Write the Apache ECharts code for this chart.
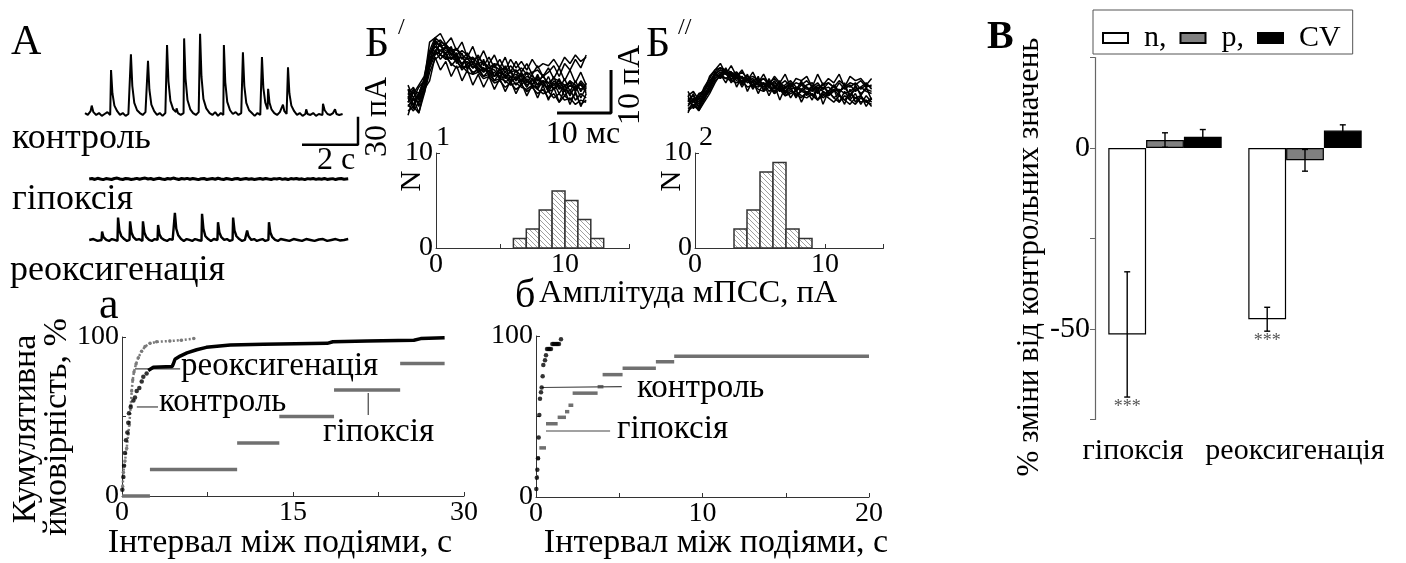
<!DOCTYPE html>
<html><head><meta charset="utf-8">
<script src="https://cdn.jsdelivr.net/npm/echarts/dist/echarts.min.js"></script>
<style>html,body{margin:0;padding:0;background:#fff}#c{width:1406px;height:563px}</style>
</head><body><div id="c"></div><script>
const FONT = '"Liberation Serif","Times New Roman",serif';

// ---------- Panel A: spontaneous activity traces (t in s, current in pA) ----------
const ctrlTrace = [[0,1],[0.1,-1],[0.2,3],[0.24,9],[0.3,2],[0.4,-1],[0.5,1],[0.6,-2],[0.7,0],[0.8,2],[0.9,-1],[0.93,47],[0.98,22],[1.05,9],[1.15,3],[1.25,-1],[1.35,1],[1.45,-2],[1.55,0],[1.62,-1],[1.64,64],[1.69,30],[1.76,12],[1.86,4],[1.96,1],[2.06,-1],[2.16,2],[2.23,0],[2.25,57],[2.3,26],[2.37,10],[2.47,3],[2.57,-1],[2.67,1],[2.77,-2],[2.87,1],[2.91,0],[2.93,74],[2.98,35],[3.05,14],[3.15,5],[3.25,2],[3.27,6],[3.32,1],[3.42,-1],[3.52,1],[3.54,81],[3.59,38],[3.66,15],[3.76,5],[3.86,1],[3.96,-1],[4.06,2],[4.09,0],[4.11,86],[4.16,40],[4.23,16],[4.33,6],[4.4,5],[4.45,1],[4.55,-1],[4.65,2],[4.75,-2],[4.85,1],[4.94,-1],[4.96,74],[5.01,34],[5.08,13],[5.18,4],[5.28,0],[5.38,2],[5.48,-1],[5.58,1],[5.62,-1],[5.64,66],[5.69,30],[5.76,12],[5.86,4],[5.96,1],[6.06,-2],[6.16,1],[6.26,-1],[6.3,0],[6.32,61],[6.37,28],[6.44,12],[6.52,5],[6.54,27],[6.59,12],[6.66,5],[6.76,1],[6.86,-1],[6.96,2],[7.03,0],[7.07,10],[7.12,3],[7.2,0],[7.23,-1],[7.25,50],[7.3,22],[7.37,9],[7.47,3],[7.57,-1],[7.67,1],[7.77,-2],[7.87,0],[7.9,5],[7.95,0],[8.05,-1],[8.15,1],[8.25,-2],[8.35,0],[8.48,-1],[8.5,11],[8.56,4],[8.66,0],[8.76,-1],[8.86,1],[8.93,5],[8.98,0],[9.08,-1],[9.2,0]];
const hypTrace = [[0.15,0],[0.25,0.5],[0.35,-0.5],[0.45,0.8],[0.55,0],[0.65,-0.7],[0.75,0.5],[0.85,0],[0.95,-0.5],[1.05,0.5],[1.15,1],[1.25,0],[1.35,-0.5],[1.45,0.5],[1.55,0.2],[1.65,-0.5],[1.75,0],[1.85,0.7],[1.95,-0.3],[2.05,0.5],[2.15,1],[2.25,0],[2.35,0.5],[2.45,-0.5],[2.55,0.2],[2.65,0.8],[2.75,0],[2.85,-0.5],[2.95,0.5],[3.05,0],[3.15,1],[3.25,0.2],[3.35,-0.5],[3.45,0.5],[3.55,0],[3.65,0.7],[3.75,-0.3],[3.85,0.5],[3.95,0],[4.05,-0.7],[4.15,0.3],[4.25,0.5],[4.35,-0.5],[4.45,0],[4.55,0.5],[4.65,-0.3],[4.75,0.8],[4.85,0],[4.95,-0.5],[5.05,0.5],[5.15,0],[5.25,-0.7],[5.35,0.3],[5.45,0.5],[5.55,-0.5],[5.65,0],[5.75,0.5],[5.85,-0.3],[5.95,0.3],[6.05,-0.5],[6.15,0],[6.25,0.5],[6.35,-0.3],[6.45,0.6],[6.55,0],[6.65,-0.5],[6.75,0.4],[6.85,0],[6.95,0.7],[7.05,-0.4],[7.15,0.2],[7.25,-0.6],[7.35,0.5],[7.45,0],[7.55,0.6],[7.65,-0.3],[7.75,0.2],[7.85,-0.7],[7.95,0.4],[8.05,0],[8.15,0.5],[8.25,-0.4],[8.35,0.3],[8.45,-0.2],[8.55,0.6],[8.65,-0.5],[8.75,0],[8.85,0.4],[8.95,-0.6],[9.05,0.2],[9.15,0.5],[9.25,-0.3],[9.4,0.2]];
const reoxTrace = [[0.15,0],[0.3,1],[0.45,-1],[0.59,0],[0.61,9],[0.66,3],[0.76,0],[0.86,-1],[0.96,1],[1.06,0],[1.16,-1],[1.18,24],[1.23,10],[1.3,4],[1.4,1],[1.5,-1],[1.59,0],[1.61,20],[1.66,8],[1.73,3],[1.83,0],[1.93,1],[2.05,-1],[2.07,20],[2.12,8],[2.19,3],[2.29,0],[2.39,-1],[2.49,1],[2.59,0],[2.61,16],[2.66,6],[2.73,2],[2.83,0],[2.93,-1],[3.03,1],[3.13,0],[3.19,-1],[3.21,29],[3.26,12],[3.33,5],[3.43,1],[3.53,-1],[3.63,1],[3.73,0],[3.83,-1],[3.93,1],[4.03,0],[4.16,-1],[4.18,28],[4.23,12],[4.3,4],[4.4,1],[4.5,-1],[4.6,1],[4.73,0],[4.75,19],[4.8,8],[4.87,3],[4.97,0],[5.07,1],[5.17,-1],[5.27,0],[5.29,24],[5.34,10],[5.41,4],[5.51,1],[5.61,-1],[5.71,0],[5.77,1],[5.79,10],[5.84,4],[5.94,0],[6.04,1],[6.14,-1],[6.24,0],[6.34,1],[6.44,-1],[6.55,0],[6.57,19],[6.62,8],[6.69,3],[6.79,0],[6.89,-1],[6.99,1],[7.15,0],[7.3,-1],[7.45,1],[7.6,0],[7.75,-1],[7.9,1],[8.05,0],[8.2,-1],[8.35,0.5],[8.5,1],[8.65,-1],[8.8,0],[8.95,1],[9.1,-0.5],[9.25,0],[9.4,1]];
const scaleA = {dt: 2, dv: 30};      // 2 s, 30 pA

// ---------- Panel Б: superimposed mEPSCs (t in ms, pA) ----------
const tB1 = [0,1,2,3,4,5,6,7,8,9,10,11,12,13,14,15,16,17,18,19,20,21,22,23,24,25,26,27,28,29,30,31,32,33];
const b1Traces = [
 [2,-2,1,4,11,10,13,9,12,8,10.5,6.5,9.5,6,9,5,8,4.5,7.5,4,6.5,3.5,6,3,5.5,2.5,5,2,4.5,1.5,4,1.5,3.5,1],
 [3,0,2.5,4,13,14,15,12.5,14,11,13,9.5,12,8.5,11,8,10,7,9.5,6,8.5,6,8,5.5,7.5,5,7,4.5,7,4,6.5,3.5,6,3],
 [-4,0,-3.5,2,4,9.5,6.5,8.5,5,7.5,4,6.5,3,5.5,2.5,5,2,4.5,1.5,4,1,3.5,0.5,3,0,3,-0.5,2.5,-1,2,-1.5,1.5,-2,1],
 [-1,1.5,-0.5,2,8,13,10,12,9,10.5,7.5,9.5,7,8.5,6,8,5,7,4.5,6.5,4,6,3.5,5.5,3,5.5,2.5,5,2,4.5,1.5,4,1.5,3.5],
 [1,2.5,0,4,10,13.5,12,12.5,10,11.5,9,10.5,8,10,7.5,9.5,7,9,6.5,9,7,8.5,6.5,9,7,8,7.5,9,7,9.5,8,10,8.5,9.5],
 [0,-2.5,1,1,7.5,11,9,10.5,7.5,9,6.5,8,5.5,7,5,6.5,4,6,3.5,5,3,4.5,2.5,4.5,2,4,1.5,3.5,1,3,0.5,3,0,2.5],
 [2,1,3,5,11,14,13,12.5,11,11.5,10,9,9.5,8,8.5,7,8,7.5,6,7.5,6,7,5.5,6,6.5,5,6,7.5,5,8,6.5,9,7,10],
 [-3,-2,-3.5,1,6,9,10,9.5,8,7,7.5,6,5.5,6,4.5,5,3.5,4,2.5,3.5,2,3,1.5,2.5,1,2,0,1,-1,0.5,-0.5,1,-1.5,-0.5],
 [0.5,-1.5,1,4,10,13,12,11,10.5,9,8,9.5,7,8,6.5,7,5,6.5,5,6,4,5.5,4,3,5,3.5,2,4,3,1.5,3,2,3.5,2],
 [-2,0,-1,2,8,11,12.5,10,9,10,7.5,7,8,6,7,5.5,6,4.5,5,3.5,5,3,4.5,3,2.5,4,1.5,2,3,0.5,2,-0.5,1,0],
 [0,2,1,4.5,10,12.5,13.5,12,11.5,10,11,10,9,9.5,8,7,7.5,6.5,7,6,6.5,5,6,5,4,5,3.5,4.5,4,3,3.5,2,4,2.5],
 [-1.5,-3,-1,2.5,8,11,10,9,9.5,8.5,7,7.5,6,6.5,5,5.5,4,4.5,4,3,3.5,2.5,2,3,2,1,1.5,0,1,-0.5,0,-1.5,-0.5,-1],
 [1,-0.5,0,3,9,12,11,12,10,9,9.5,8,8.5,7,6,7,6.5,5,6,5,5.5,4,5,4.5,3,4,3.5,2,3.5,2.5,4,3,2,3],
 [-1,1.5,-2,2,7,10,11,10.5,11,9.5,8,8.5,7,7.5,7,6,5,6,5.5,4,4.5,5,3,4,4.5,3,2.5,3,4,2,1,2.5,3,1.5]
];
const tB2 = [0,1,2,3,4,5,6,7,8,9,10,11,12,13,14,15,16,17,18,19,20,21,22,23,24,25,26,27,28,29,30,31,32,33,34];
const b2Traces = [
 [0,-1.5,0.5,2,4,6,7,6.5,5.5,6,5,4.5,5,3.5,4,3,4.5,2.5,3,4,2,3.5,2.5,3,1.5,3,2,3.5,2,3,1,2.5,3,2,1.5],
 [-2,-1,-2.5,0,2.5,5,6,5,6,4.5,4,5,3,4,2.5,3.5,2,3,1.5,2.5,1,2,3,1,2,0.5,1.5,2.5,1,0,1.5,0.5,1,-0.5,0.5],
 [1,2,0,3,5,7,7.5,7,6.5,5.5,6.5,5,5.5,4.5,5,4,5,3.5,4.5,3,4,3.5,4.5,3,4,2.5,4,3,4.5,3.5,3,4,2.5,3.5,3],
 [-1,0,-1.5,1,3.5,5.5,6.5,6,5,5.5,4,4.5,3.5,3,4,2,3,2.5,1,2,1.5,0.5,2,1,0,1.5,0.5,-0.5,1,0,-1,0.5,-0.5,0,-1.5],
 [0.5,-0.5,1,2.5,4.5,6,7,6,6.5,5,5.5,4,4.5,5,3.5,4.5,3,4,3,3.5,2.5,4,3,2,3.5,2.5,3,2,4,2.5,3.5,2,3,4,2.5],
 [-1.5,0.5,-1,1.5,3,5,6,7,5.5,5,4.5,5,4,3.5,3,4,3.5,2,3,2.5,3,2,1.5,2.5,3,2,1,2,2.5,1.5,2,3,1.5,2.5,2],
 [0,1,-0.5,2,4,6.5,7.5,6.5,6,6.5,5,5.5,4.5,4,5,3.5,4,3,3.5,4.5,3,2.5,3.5,4,2.5,3.5,4,3,2,3,4,3.5,4.5,3,3.5],
 [-2.5,-1.5,-2,0.5,2,4.5,5.5,5,4.5,4,4.5,3,3.5,2.5,2,3,1.5,2.5,1,1.5,2,1,0.5,1.5,0,1,2,0.5,-0.5,1,0,-1,0.5,-0.5,-1],
 [1,-2,0.5,0,3,6.5,5,7.5,4.5,6.5,3.5,6,3,5.5,2,5,2.5,4.5,1.5,4,2,4.5,1,3.5,2,4,1,3.5,1.5,4,0.5,3.5,1,3,0],
 [-3,0,-2.5,-0.5,1.5,4,6,4,6.5,3,5.5,2,4.5,1.5,4,1,3.5,0,3,0.5,2.5,-0.5,2,0,3,-1,2,0.5,1.5,-1,2.5,-0.5,1,-1.5,0.5],
 [2,-0.5,1.5,2,5.5,7,8.5,6,8,5.5,7,4.5,6.5,4,6,3.5,5.5,4,6,3,5,4.5,5.5,3,6,3.5,5,4,6,3,5.5,4.5,5,3.5,5],
 [-0.5,1.5,-2,1,2.5,6,5,6.5,4,5.5,3,5,2.5,4.5,3,4,1.5,3.5,2,3,0.5,2.5,1.5,3,0,2,1,2.5,-0.5,2,0,1.5,-1,1,-0.5]
];
const scaleB = {dt: 10, dv: 10};     // 10 ms, 10 pA

// ---------- amplitude histograms ----------
const hist1Lo = [6,7,8,9,10,11,12];
const hist1N  = [1,2,4,6,5,3,1];
const hist2Lo = [3,4,5,6,7,8];
const hist2N  = [2,4,8,9,2,1];
const binW = 1;

// ---------- cumulative inter-event interval distributions ----------
const cumA_ctrlDots = [[0.03,4],[0.12,12],[0.18,19],[0.26,27],[0.35,35],[0.47,40],[0.55,46],[0.61,52],[0.76,56],[1.0,60],[1.14,62],[1.29,66],[1.52,68],[1.73,72],[1.87,75],[2.16,77]];
const cumA_ctrlLine = [[2.3,79],[2.75,81],[4.4,81.5],[4.5,83],[4.65,86],[5.1,88],[5.7,90],[6.55,92],[7.4,93.5],[9.5,95],[12.4,95.5],[18,96],[18.5,97],[21.5,97.5],[25.6,98],[26.2,99],[28.3,99.5]];
const cumA_reox = [[0.06,6],[0.12,15],[0.26,22],[0.41,30],[0.55,39],[0.64,45],[0.77,57],[0.85,66],[0.94,73],[1.05,78],[1.23,83],[1.43,87],[1.72,91],[2.02,94],[2.46,96],[3.04,97],[4.2,97.5],[5.2,98],[6.3,99]];
const cumA_hypStart = [0,2.45,10.1,13.8,18.6,24.4];
const cumA_hypEnd   = [2.45,10.1,13.8,18.6,24.4,28.3];
const cumA_hypLevel = [0,16.7,33.3,50,66.7,83.3];

const cumB_ctrlDots = [[0.02,5],[0.05,12],[0.08,17],[0.12,24],[0.16,37],[0.2,51],[0.24,61],[0.3,65],[0.34,68],[0.4,75],[0.44,82],[0.54,85],[0.6,88],[0.66,92],[0.74,92],[0.82,92],[0.9,92],[0.98,95],[1.06,95],[1.14,95],[1.22,95],[1.3,95],[1.38,95],[1.5,98]];
const cumB_hypStart = [0,0.04,0.2,0.6,1.3,1.74,1.95,2.2,3.7,4.0,5.2,7.2,8.3];
const cumB_hypEnd   = [0.14,0.24,0.6,1.3,1.8,2.0,2.24,3.7,4.05,5.2,7.2,8.3,20];
const cumB_hypLevel = [12.6,24,30.5,45.5,49.5,53,57,64.5,68.5,76,80,84,87.5];

// ---------- Panel В: % change from control ----------
const groups = ['гіпоксія','реоксигенація'];
const barNames = ['n,','p,','CV'];
const nVals = [-51.5,-47.3], nErr = [17.3,3.3];
const pVals = [2.2,-3.4],   pErr = [2.0,3.0];
const cvVals = [3.1,4.8],   cvErr = [2.0,1.6];
const nStars = ['***','***'];

// =====================================================================
const chart = echarts.init(document.getElementById('c'), null, {renderer:'canvas'});

// hatch pattern for histogram bars
const pc = document.createElement('canvas'); pc.width = pc.height = 5;
const pg = pc.getContext('2d'); pg.fillStyle = '#fff'; pg.fillRect(0,0,5,5);
pg.strokeStyle = '#a0a0a0'; pg.lineWidth = 1;
pg.beginPath(); pg.moveTo(-1,-1); pg.lineTo(6,6); pg.moveTo(-1,4); pg.lineTo(1,6); pg.moveTo(4,-1); pg.lineTo(6,1); pg.stroke();
const hatch = {image: pc, repeat: 'repeat'};

const grids = [
 {left:85,  top:30,    width:280, height:121.33}, // 0 A control
 {left:85,  top:165,   width:280, height:28},     // 1 A hypoxia
 {left:85,  top:207.3, width:280, height:42},     // 2 A reoxygenation
 {left:408, top:29.2,  width:216, height:94.6},   // 3 Б'
 {left:688, top:48.4,  width:216, height:77.4},   // 4 Б''
 {left:436, top:153,   width:193.5, height:95},   // 5 hist 1
 {left:695, top:153,   width:188.5, height:95},   // 6 hist 2
 {left:122, top:337,   width:342, height:159},    // 7 cum а
 {left:536, top:336,   width:333, height:161},    // 8 cum б
 {left:1095,top:57.5,  width:280, height:362}     // 9 bars
];
const hid = (min,max)=>({type:'value', min, max, show:false});
const axLbl = (fmt)=>({color:'#000', fontFamily:FONT, fontSize:28, margin:3, formatter:fmt});
const axLine = {show:true, lineStyle:{color:'#333', width:1}};
const tick = {show:true, inside:true, length:4, lineStyle:{color:'#333'}};

const xAxes = [
 hid(0,10), hid(0,10), hid(0,10), hid(0,40), hid(0,40),
 {type:'value', min:0, max:15, interval:5, axisLine:axLine, axisTick:tick, splitLine:{show:false}, axisLabel:axLbl(v=>v%10===0?String(v):'')},
 {type:'value', min:0, max:14.5, interval:5, axisLine:axLine, axisTick:tick, splitLine:{show:false}, axisLabel:axLbl(v=>v%10===0?String(v):'')},
 {type:'value', min:0, max:30, interval:7.5, axisLine:axLine, axisTick:tick, splitLine:{show:false}, axisLabel:axLbl(v=>v%15===0?String(v):'')},
 {type:'value', min:0, max:20, interval:5, axisLine:axLine, axisTick:tick, splitLine:{show:false}, axisLabel:axLbl(v=>v%10===0?String(v):'')},
 {type:'category', data:groups, axisLine:{show:false}, axisTick:{show:false},
  axisLabel:{color:'#000', fontFamily:FONT, fontSize:30, margin:17, interval:0,
   formatter:(v,i)=> i===0 ? '{a|'+v+'}' : '{b|'+v+'}',
   rich:{a:{fontFamily:FONT, fontSize:30, color:'#000', padding:[0,64,0,0]}, b:{fontFamily:FONT, fontSize:30, color:'#000', padding:[0,20,0,0]}}}}
];
xAxes.forEach((a,i)=>{ a.gridIndex = i; });
const yAxes = [
 hid(-40,90), hid(-15,15), hid(-10,35), hid(-6,16), hid(-6,12),
 {type:'value', min:0, max:10, interval:10, axisLine:axLine, axisTick:tick, splitLine:{show:false}, axisLabel:axLbl(v=>String(v))},
 {type:'value', min:0, max:10, interval:10, axisLine:axLine, axisTick:tick, splitLine:{show:false}, axisLabel:axLbl(v=>String(v))},
 {type:'value', min:0, max:100, interval:50, axisLine:axLine, axisTick:tick, splitLine:{show:false}, axisLabel:axLbl(v=>v===50?'':String(v))},
 {type:'value', min:0, max:100, interval:50, axisLine:axLine, axisTick:tick, splitLine:{show:false}, axisLabel:axLbl(v=>v===50?'':String(v))},
 {type:'value', min:-75, max:25, interval:25, axisLine:{show:true, lineStyle:{color:'#666', width:1.2}},
  axisTick:{show:true, inside:false, length:5, lineStyle:{color:'#666'}}, splitLine:{show:false},
  axisLabel:{color:'#000', fontFamily:FONT, fontSize:30, margin:5, formatter:v=>(v===0||v===-50)?String(v):''}}
];
yAxes.forEach((a,i)=>{ a.gridIndex = i; });

const series = [];
const lineS = (gi, data, color, width, extra)=>Object.assign({type:'line', xAxisIndex:gi, yAxisIndex:gi, data, symbol:'none', silent:true,
  lineStyle:{color, width}, z:3}, extra||{});

// A traces
series.push(lineS(0, ctrlTrace, '#000', 2));
series.push(lineS(1, hypTrace, '#000', 3));
series.push(lineS(2, reoxTrace, '#000', 2.4));
// A scale bar (anchored below right end of control trace)
{ const t0 = 7.75, v0 = -33;
  series.push(lineS(0, [[t0,v0],[t0+scaleA.dt,v0],[t0+scaleA.dt,v0+scaleA.dv]], '#000', 2.5)); }
// Б traces
b1Traces.forEach(tr=>series.push(lineS(3, tr.map((v,i)=>[tB1[i],v]), '#000', 1.5)));
b2Traces.forEach(tr=>series.push(lineS(4, tr.map((v,i)=>[tB2[i],v]), '#000', 1.5)));
{ const t0 = 27.6, v0 = -3.5;
  series.push(lineS(3, [[t0,v0],[t0+scaleB.dt,v0],[t0+scaleB.dt,v0+scaleB.dv]], '#000', 3)); }

// histograms
function histSeries(gi, lo, n){
  return {type:'custom', xAxisIndex:gi, yAxisIndex:gi, silent:true,
    data: lo.map((l,i)=>[l, l+binW, n[i]]),
    encode:{x:[0,1], y:2},
    renderItem:(p,api)=>{
      const a = api.coord([api.value(0),0]), b = api.coord([api.value(1),api.value(2)]);
      return {type:'rect', shape:{x:a[0], y:b[1], width:b[0]-a[0], height:a[1]-b[1]},
        style:{fill:hatch, stroke:'#333', lineWidth:1.5}};
    }};
}
series.push(histSeries(5, hist1Lo, hist1N));
series.push(histSeries(6, hist2Lo, hist2N));

// cumulative а
series.push({type:'scatter', xAxisIndex:7, yAxisIndex:7, data:cumA_ctrlDots, symbolSize:4.5, itemStyle:{color:'#000'}, silent:true, z:4});
series.push(lineS(7, cumA_ctrlLine, '#000', 3.5, {z:4}));
series.push(lineS(7, cumA_reox, '#7a7a7a', 3, {symbol:'circle', symbolSize:3.5, showSymbol:true, itemStyle:{color:'#7a7a7a'}, lineStyle:{color:'#7a7a7a', width:2.5, type:[2,2]}}));
function segSeries(gi, s, e, lv, color, w){
  return {type:'custom', xAxisIndex:gi, yAxisIndex:gi, silent:true, data:s.map((x,i)=>[x, lv[i], e[i]]),
    encode:{x:[0,2], y:1},
    renderItem:(p,api)=>{const a=api.coord([api.value(0),api.value(1)]), b=api.coord([api.value(2),api.value(1)]);
      return {type:'line', shape:{x1:a[0],y1:a[1],x2:b[0],y2:b[1]}, style:{stroke:color, lineWidth:w}};}};
}
series.push(segSeries(7, cumA_hypStart, cumA_hypEnd, cumA_hypLevel, '#707070', 3.5));
// cumulative б
series.push({type:'scatter', xAxisIndex:8, yAxisIndex:8, data:cumB_ctrlDots, symbolSize:4.5, itemStyle:{color:'#000'}, silent:true, z:4});
series.push(segSeries(8, cumB_hypStart, cumB_hypEnd, cumB_hypLevel, '#707070', 3.5));

// label pointer lines (data coordinates)
function pointer(gi, x1,y1,x2,y2){
  return {type:'custom', xAxisIndex:gi, yAxisIndex:gi, silent:true, data:[[x1,y1,x2,y2]], encode:{x:[0,2], y:[1,3]},
    renderItem:(p,api)=>{const a=api.coord([api.value(0),api.value(1)]), b=api.coord([api.value(2),api.value(3)]);
      return {type:'line', shape:{x1:a[0],y1:a[1],x2:b[0],y2:b[1]}, style:{stroke:'#444', lineWidth:1.2}};}};
}
series.push(pointer(7, 1.14,80, 5.1,80));
series.push(pointer(7, 1.3,56, 3.16,56));
series.push(pointer(7, 21.6,64.8, 21.6,51));
series.push(pointer(8, 0.35,68, 5.15,68.5));
series.push(pointer(8, 0.6,41, 4.45,41));

// bars
const GAP = 0.19;
const barStyles = [
  {color:'#fff', borderColor:'#000', borderWidth:1.2},
  {color:'#808080', borderColor:'#000', borderWidth:1.2},
  {color:'#000', borderColor:'#000', borderWidth:1.2}
];
[nVals,pVals,cvVals].forEach((vals,k)=>{
  series.push({type:'bar', name:barNames[k], xAxisIndex:9, yAxisIndex:9, data:vals, barGap:'0%', barCategoryGap:(GAP*100)+'%',
    itemStyle:barStyles[k], silent:true});
});
const errData = [];
[[nVals,nErr],[pVals,pErr],[cvVals,cvErr]].forEach(([v,e],k)=>v.forEach((m,ci)=>errData.push([ci,m,e[ci],k])));
series.push({type:'custom', xAxisIndex:9, yAxisIndex:9, silent:true, data:errData, encode:{x:0,y:1}, z:5,
  renderItem:(p,api)=>{
    const ci=api.value(0), m=api.value(1), e=api.value(2), k=api.value(3);
    const cw = api.size([1,0])[0], bw = cw*(1-GAP)/3;
    const cx = api.coord([ci,0])[0] + (k-1)*bw;
    const yt = api.coord([ci,m+e])[1], yb = api.coord([ci,m-e])[1];
    const st = {stroke:'#000', lineWidth:1.4};
    return {type:'group', children:[
      {type:'line', shape:{x1:cx,y1:yt,x2:cx,y2:yb}, style:st},
      {type:'line', shape:{x1:cx-3,y1:yt,x2:cx+3,y2:yt}, style:st},
      {type:'line', shape:{x1:cx-3,y1:yb,x2:cx+3,y2:yb}, style:st}]};
  }});
series.push({type:'custom', xAxisIndex:9, yAxisIndex:9, silent:true, data:nVals.map((m,ci)=>[ci,m-nErr[ci]]), encode:{x:0,y:1}, z:5,
  renderItem:(p,api)=>{
    const ci=api.value(0), cw=api.size([1,0])[0], bw=cw*(1-GAP)/3;
    const pt = api.coord([ci, api.value(1)]);
    return {type:'text', x:pt[0]-bw, y:pt[1]+1, style:{text:nStars[ci], font:'18px '+FONT, fill:'#555', align:'center', verticalAlign:'top'}};
  }});

// text annotations
const T = (text, x, y, size, opt)=>Object.assign({type:'text', x, y, silent:true,
  style:Object.assign({text, font:size+'px '+FONT, fill:'#000', align:'left', verticalAlign:'middle'}, (opt&&opt.style)||{})},
  opt&&opt.rotation!==undefined?{rotation:opt.rotation}:{});
const R = Math.PI/2;
const graphic = [
  T('А', 11, 43, 42),
  T('контроль', 12, 139, 36),
  T('гіпоксія', 12, 200, 36),
  T('реоксигенація', 10, 271, 36),
  T('2 с', 336, 161, 32, {style:{align:'center'}}),
  T('30 пА', 378, 117, 32, {rotation:R, style:{align:'center'}}),
  T('Б', 365, 45, 42),
  T('/', 398, 28, 24),
  T('10 мс', 583, 135, 32, {style:{align:'center'}}),
  T('10 пА', 631, 85, 32, {rotation:R, style:{align:'center'}}),
  T('Б', 646, 45, 42),
  T('//', 678, 28, 24),
  T('1', 443, 138, 28, {style:{align:'center'}}),
  T('2', 706, 138, 28, {style:{align:'center'}}),
  T('N', 412, 181, 29, {rotation:R, style:{align:'center'}}),
  T('N', 672, 181, 29, {rotation:R, style:{align:'center'}}),
  T('б', 515, 296, 40),
  T('Амплітуда мПСС, пА', 539, 293, 32.5),
  T('а', 99, 306, 44),
  T('реоксигенація', 181, 366, 33),
  T('контроль', 159, 402, 33),
  T('гіпоксія', 323, 432, 33),
  T('контроль', 637, 388, 33),
  T('гіпоксія', 617, 429, 33),
  T('Інтервал між подіями, с', 280, 543, 34, {style:{align:'center'}}),
  T('Інтервал між подіями, с', 716, 543, 34, {style:{align:'center'}}),
  T('Кумулятивна', 26, 429, 34, {rotation:R, style:{align:'center'}}),
  T('ймовірність, %', 57, 427, 34, {rotation:R, style:{align:'center'}}),
  {type:'text', x:987, y:38, silent:true, style:{text:'В', font:'bold 40px '+FONT, fill:'#000', align:'left', verticalAlign:'middle'}},
  T('% зміни від контрольних значень', 1030, 257, 31, {rotation:R, style:{align:'center'}})
];

chart.setOption({
  animation:false,
  backgroundColor:'#fff',
  textStyle:{fontFamily:FONT},
  grid: grids,
  xAxis: xAxes,
  yAxis: yAxes,
  legend:{data:barNames, left:1093, top:10, orient:'horizontal', icon:'rect', itemWidth:25, itemHeight:10, itemGap:13,
    padding:[13,12,1,9], borderColor:'#555', borderWidth:1, selectedMode:false,
    textStyle:{fontFamily:FONT, fontSize:30, color:'#000', padding:[0,0,0,11]}},
  series,
  graphic
});
</script></body></html>
